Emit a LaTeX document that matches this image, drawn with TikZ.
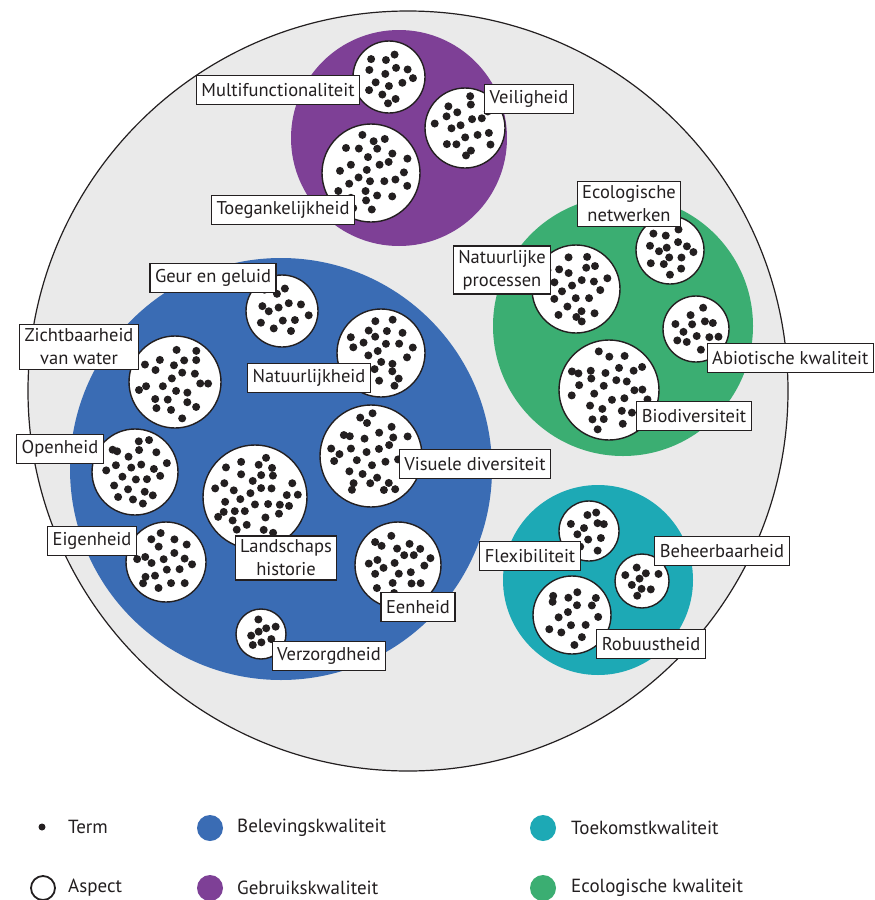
\documentclass[tikz,border=0pt]{standalone}
\usepackage{fontspec}
\setmainfont{PT Sans}
\definecolor{bgrey}{HTML}{EAEAEA}
\definecolor{qblue}{HTML}{3A6CB4}
\definecolor{qpurple}{HTML}{7E4096}
\definecolor{qteal}{HTML}{1DA9B5}
\definecolor{qgreen}{HTML}{3BAE72}
\definecolor{ink}{HTML}{231F20}
\begin{document}
\begin{tikzpicture}[x=1pt,y=-1pt,
  group/.style={circle,inner sep=0pt,draw=none},
  aspect/.style={circle,inner sep=0pt,fill=white,draw=ink,line width=1.4pt},
  lbl/.style={draw=ink,fill=white,line width=1.2pt,text=ink,inner xsep=5pt,inner ysep=4pt,
    font=\fontsize{18.5}{23}\selectfont,align=center,minimum height=29pt},
  legtxt/.style={anchor=west,inner sep=0pt,text=ink,font=\fontsize{19}{22}\selectfont},
  dot/.style={fill=ink}]
\useasboundingbox (0,0) rectangle (875,900);
\fill[white] (0,0) rectangle (875,900);
% big circle
\node[circle,inner sep=0pt,minimum size=760pt,fill=bgrey,draw=ink,line width=1.2pt] (world) at (408,391) {};
% groups
\node[group,fill=qpurple,minimum size=216pt] (gebruik) at (399,138) {};
\node[group,fill=qblue,minimum size=422pt] (beleving) at (281,469) {};
\node[group,fill=qgreen,minimum size=260pt] (ecologie) at (623,326) {};
\node[group,fill=qteal,minimum size=190pt] (toekomst) at (598,580) {};
% aspects with terms
\pgfmathsetseed{7}
\foreach \nm/\x/\y/\r/\n in {
  multi/389/77/36/15, veilig/465/128/40/19, toegang/371/173/49/29,
  ecnet/670/250/34/15, natproc/576/289/44/24, abiot/696/329/33/13, biodiv/609/390/50/30,
  flex/589/531/30/11, beheer/642/581/27/9, robuust/572/615/39/16,
  geur/282/311/36/14, natuur/381/353/44/24, zicht/175/382/46/25, open/135/472/43/24,
  landsch/255/497/52/36, visueel/371/456/51/32, eigen/166/562/40/20, eenheid/398/565/43/23,
  verzorg/261/634/25/8} {
  \node[aspect,minimum size=2*\r pt] (\nm) at (\x,\y) {};
  \foreach \i in {1,...,\n} {
    \pgfmathsetmacro\rh{(\r-8.5)*sqrt((\i-0.5)/\n)+1.5*rand}
    \pgfmathsetmacro\th{\i*137.508+12*rand}
    \fill[dot] (\nm.center) ++(\th:\rh pt) circle (4pt);
  }
}
% labels
\node[lbl] (lmulti) at (278,90) {Multifunctionaliteit};
\node[lbl] (lveilig) at (529,99) {Veiligheid};
\node[lbl] (ltoegang) at (283,210) {Toegankelijkheid};
\node[lbl] (lecnet) at (629,204) {Ecologische\\netwerken};
\node[lbl] (lnatproc) at (502,270) {Natuurlijke\\processen};
\node[lbl,anchor=east] (labiot) at (874,358) {Abiotische kwaliteit};
\node[lbl] (lbiodiv) at (694,416) {Biodiversiteit};
\node[lbl] (lflex) at (530,556) {Flexibiliteit};
\node[lbl] (lbeheer) at (722,551) {Beheerbaarheid};
\node[lbl] (lrobuust) at (651,644) {Robuustheid};
\node[lbl] (lgeur) at (213,278) {Geur en geluid};
\node[lbl] (lzicht) at (79,347) {Zichtbaarheid\\van water};
\node[lbl] (lnatuur) at (309,378) {Natuurlijkheid};
\node[lbl] (lopen) at (60,449) {Openheid};
\node[lbl] (lvisueel) at (475,464) {Visuele diversiteit};
\node[lbl] (leigen) at (92,541) {Eigenheid};
\node[lbl] (llandsch) at (286,558) {Landschaps\\historie};
\node[lbl] (leenheid) at (418,607) {Eenheid};
\node[lbl] (lverzorg) at (329,656) {Verzorgdheid};
% legend
\fill[ink] (42,827) circle (3.5pt);
\node[legtxt] (tterm) at (68,827) {Term};
\draw[ink,line width=1.8pt] (43,888) circle (12pt);
\node[legtxt] (taspect) at (68,888) {Aspect};
\fill[qblue] (210,828) circle (13pt);
\node[legtxt] (tbelev) at (237,828) {Belevingskwaliteit};
\fill[qpurple] (210,888) circle (13pt);
\node[legtxt] (tgebr) at (237,888) {Gebruikskwaliteit};
\fill[qteal] (543,828) circle (13pt);
\node[legtxt] (ttoek) at (571,828) {Toekomstkwaliteit};
\fill[qgreen] (543,888) circle (13pt);
\node[legtxt] (tecol) at (571,888) {Ecologische kwaliteit};
\end{tikzpicture}
\end{document}
